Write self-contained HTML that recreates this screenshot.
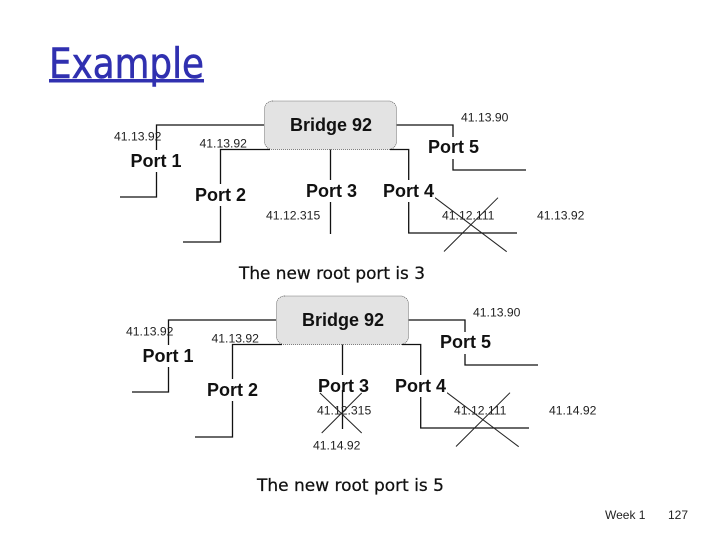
<!DOCTYPE html>
<html>
<head>
<meta charset="utf-8">
<style>
html,body{margin:0;padding:0;background:#fff;width:720px;height:540px;overflow:hidden}
svg{display:block}
text{font-family:"Liberation Sans",sans-serif}
.ip{font-size:12.200px;fill:#222}
.port{font-size:18px;font-weight:bold;fill:#111}
.cap{font-family:"DejaVu Sans",sans-serif;font-size:17px;fill:#111;stroke:#111;stroke-width:0.25}
.l{stroke:#111;stroke-width:1.3;fill:none}
.x{stroke:#222;stroke-width:1;fill:none}
.bg{fill:#fff;stroke:none}
</style>
</head>
<body>
<svg width="720" height="540" viewBox="0 0 720 540" xmlns="http://www.w3.org/2000/svg">
<text x="49" y="78" font-size="42" fill="#3030b0" stroke="#3030b0" stroke-width="0.6" textLength="155" lengthAdjust="spacingAndGlyphs" style="font-family:'DejaVu Sans',sans-serif">Example</text>
<rect x="49" y="79" width="155" height="3.500" fill="#3030b0"/>

<g id="d1">
<rect x="264.500" y="101" width="132" height="48.500" rx="8" fill="#e3e3e3" stroke="#555" stroke-width="0.8" stroke-dasharray="1 1"/>
<path class="l" d="M264 125H156.500V197H120"/>
<path class="l" d="M270 149.500H220.500V242H183"/>
<path class="l" d="M330.500 149.500V234"/>
<path class="l" d="M390 149.500H408.700V233H517"/>
<path class="l" d="M396.500 125H453V170H526"/>
<path class="x" d="M435 197.700L506.700 251.700M498 197.700L444 251.500"/>
<text x="331" y="131" class="port" text-anchor="middle">Bridge 92</text>
<rect class="bg" x="130" y="150" width="54" height="22"/><text x="156" y="167" class="port" text-anchor="middle">Port 1</text>
<rect class="bg" x="194" y="184" width="53" height="22"/><text x="220.500" y="201" class="port" text-anchor="middle">Port 2</text>
<rect class="bg" x="305" y="180" width="53" height="22"/><text x="331.500" y="197" class="port" text-anchor="middle">Port 3</text>
<rect class="bg" x="382" y="180" width="53" height="22"/><text x="408.500" y="197" class="port" text-anchor="middle">Port 4</text>
<rect class="bg" x="427" y="137" width="53" height="22"/><text x="453.500" y="153" class="port" text-anchor="middle">Port 5</text>
<text x="114" y="140.500" class="ip">41.13.92</text>
<text x="199.500" y="147.500" class="ip">41.13.92</text>
<text x="266" y="219.500" class="ip">41.12.315</text>
<text x="461" y="121.500" class="ip">41.13.90</text>
<text x="442" y="219.500" class="ip">41.12.111</text>
<text x="537" y="219.500" class="ip">41.13.92</text>
</g>

<g transform="translate(12,195)">
<rect x="264.500" y="101" width="132" height="48.500" rx="8" fill="#e3e3e3" stroke="#555" stroke-width="0.8" stroke-dasharray="1 1"/>
<path class="l" d="M264 125H156.500V197H120"/>
<path class="l" d="M270 149.500H220.500V242H183"/>
<path class="l" d="M330.500 149.500V234"/>
<path class="l" d="M390 149.500H408.700V233H517"/>
<path class="l" d="M396.500 125H453V170H526"/>
<path class="x" d="M435 197.700L506.700 251.700M498 197.700L444 251.500"/>
<path class="x" d="M308 198L349.700 238M349.700 198L309.700 238"/>
<text x="331" y="131" class="port" text-anchor="middle">Bridge 92</text>
<rect class="bg" x="130" y="150" width="54" height="22"/><text x="156" y="167" class="port" text-anchor="middle">Port 1</text>
<rect class="bg" x="194" y="184" width="53" height="22"/><text x="220.500" y="201" class="port" text-anchor="middle">Port 2</text>
<rect class="bg" x="305" y="180" width="53" height="15"/><text x="331.500" y="197" class="port" text-anchor="middle">Port 3</text>
<rect class="bg" x="382" y="180" width="53" height="22"/><text x="408.500" y="197" class="port" text-anchor="middle">Port 4</text>
<rect class="bg" x="427" y="137" width="53" height="22"/><text x="453.500" y="153" class="port" text-anchor="middle">Port 5</text>
<text x="114" y="140.500" class="ip">41.13.92</text>
<text x="199.500" y="147.500" class="ip">41.13.92</text>
<text x="305" y="219.500" class="ip">41.12.315</text>
<text x="301" y="254.500" class="ip">41.14.92</text>
<text x="461" y="121.500" class="ip">41.13.90</text>
<text x="442" y="219.500" class="ip">41.12.111</text>
<text x="537" y="219.500" class="ip">41.14.92</text>
</g>

<text x="239" y="279" class="cap" textLength="186" lengthAdjust="spacingAndGlyphs">The new root port is 3</text>
<text x="257" y="491" class="cap" textLength="187" lengthAdjust="spacingAndGlyphs">The new root port is 5</text>
<text x="605" y="519" font-size="12" fill="#222">Week 1</text>
<text x="668" y="519" font-size="12" fill="#222">127</text>
</svg>
</body>
</html>
